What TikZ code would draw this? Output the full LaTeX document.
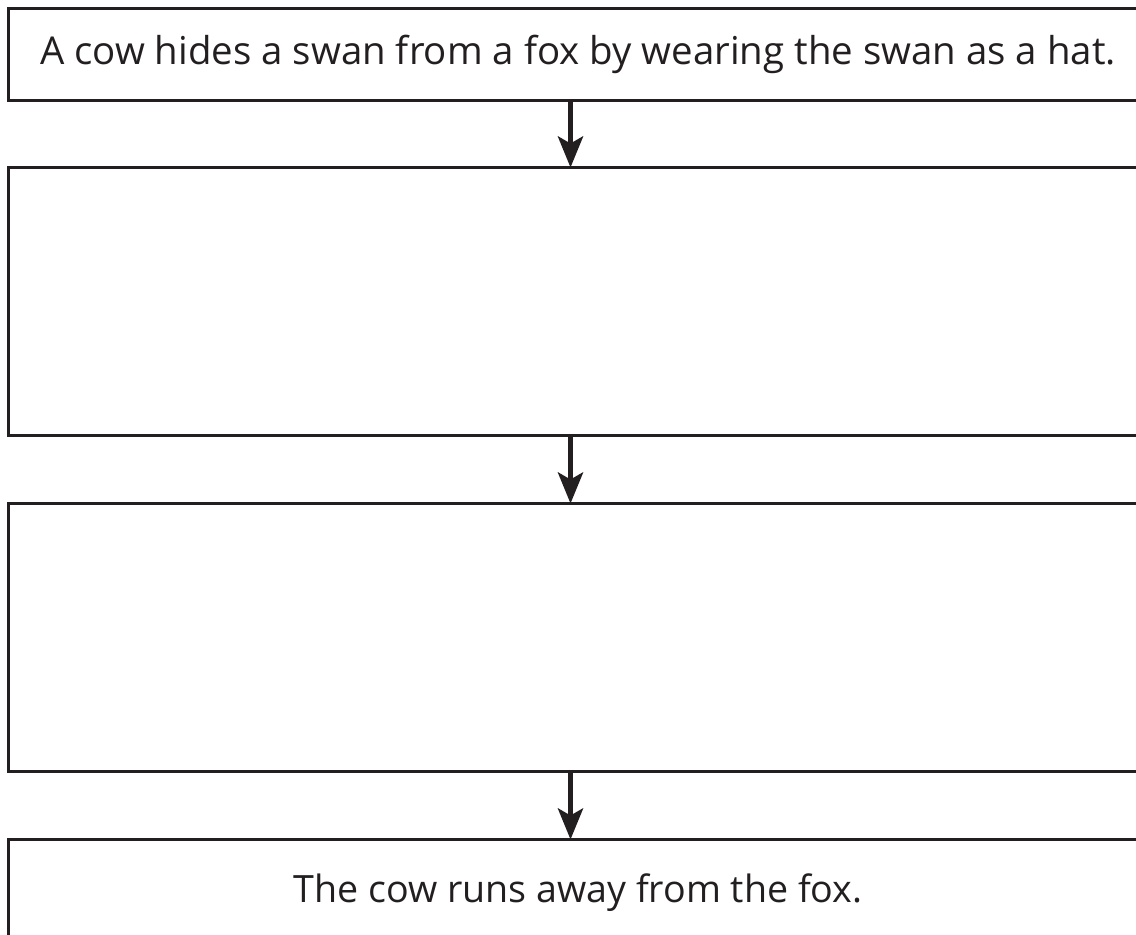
\documentclass[tikz,border=0pt]{standalone}
\usepackage{fontspec}
\setmainfont{Open Sans}
\usetikzlibrary{positioning, arrows.meta}
\definecolor{ink_grey}{HTML}{231F20}
\colorlet{inkgrey}{ink_grey}
\tikzset{
  storybox/.style={rectangle,draw=inkgrey,line width=1.5pt,outer sep=0pt,minimum width=569.5pt,text=inkgrey,font=\fontsize{19.2}{23}\selectfont},
  storybox_s/.style={storybox,minimum height=46pt},
  storybox_l/.style={storybox,minimum height=134pt},
  flow/.style={line width=2.6pt,draw=inkgrey,-{Stealth[length=15.5pt,width=12.5pt,inset=3.5pt]}},
}

\begin{document}
\begin{tikzpicture}
	    \useasboundingbox (0,0) rectangle (568pt,-467pt);
	    \clip (0,0) rectangle (568pt,-467pt);
	    \node[storybox_s,anchor=north west] (A) at (4.25pt,-4.25pt) {A cow hides a swan from a fox by wearing the swan as a hat.};
	    \node[storybox_l,below=33.5pt of A] (B) {};
	    \node[storybox_l,below=34pt of B] (C) {};
	    \node[storybox,below=34pt of C,minimum height=52pt,text depth=3pt,font=\fontsize{18.8}{23}\selectfont] (D) {The cow runs away from the fox.};
	    \draw[flow] ([xshift=-3.75pt]A.south) -- ([xshift=-3.75pt]B.north);
	    \draw[flow] ([xshift=-3.75pt]B.south) -- ([xshift=-3.75pt]C.north);
	    \draw[flow] ([xshift=-3.75pt]C.south) -- ([xshift=-3.75pt]D.north);
	\end{tikzpicture}
\end{document}
